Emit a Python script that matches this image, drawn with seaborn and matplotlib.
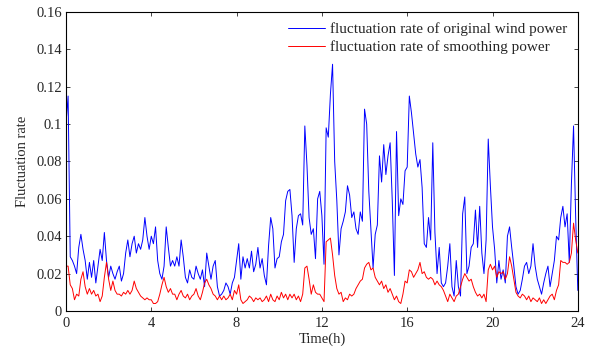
import numpy as np
import pandas as pd
import seaborn as sns
import matplotlib
matplotlib.use("Agg")
import matplotlib.pyplot as plt

# fluctuation rate of original wind power, one value every 0.1 h
original = [
    0.100, 0.115, 0.029, 0.027, 0.024, 0.020, 0.034, 0.041, 0.033, 0.027,
    0.017, 0.026, 0.018, 0.027, 0.015, 0.024, 0.033, 0.027, 0.042, 0.027,
    0.018, 0.024, 0.020, 0.017, 0.021, 0.024, 0.016, 0.020, 0.031, 0.038,
    0.029, 0.036, 0.040, 0.031, 0.036, 0.033, 0.038, 0.050, 0.040, 0.033,
    0.040, 0.036, 0.045, 0.027, 0.020, 0.017, 0.024, 0.045, 0.034, 0.024,
    0.027, 0.024, 0.029, 0.024, 0.038, 0.029, 0.018, 0.015, 0.022, 0.018,
    0.017, 0.024, 0.020, 0.017, 0.022, 0.013, 0.031, 0.024, 0.017, 0.024,
    0.027, 0.013, 0.008, 0.009, 0.011, 0.015, 0.013, 0.009, 0.015, 0.018,
    0.027, 0.036, 0.017, 0.029, 0.023, 0.028, 0.023, 0.032, 0.021, 0.025,
    0.034, 0.023, 0.028, 0.019, 0.014, 0.035, 0.050, 0.044, 0.023, 0.028,
    0.029, 0.037, 0.041, 0.059, 0.064, 0.065, 0.051, 0.026, 0.044, 0.051,
    0.052, 0.046, 0.099, 0.078, 0.050, 0.041, 0.044, 0.028, 0.060, 0.064,
    0.051, 0.025, 0.098, 0.093, 0.116, 0.132, 0.080, 0.059, 0.030, 0.044,
    0.048, 0.053, 0.067, 0.062, 0.050, 0.053, 0.044, 0.041, 0.053, 0.048,
    0.108, 0.100, 0.064, 0.044, 0.023, 0.041, 0.046, 0.083, 0.069, 0.089,
    0.073, 0.083, 0.090, 0.059, 0.019, 0.096, 0.051, 0.060, 0.057, 0.075,
    0.077, 0.115, 0.106, 0.095, 0.084, 0.077, 0.081, 0.066, 0.036, 0.034,
    0.050, 0.038, 0.090, 0.042, 0.020, 0.034, 0.015, 0.013, 0.015, 0.024,
    0.036, 0.013, 0.008, 0.027, 0.013, 0.008, 0.052, 0.061, 0.020, 0.024,
    0.034, 0.036, 0.054, 0.034, 0.056, 0.031, 0.020, 0.038, 0.092, 0.067,
    0.045, 0.033, 0.015, 0.027, 0.017, 0.022, 0.015, 0.040, 0.045, 0.034,
    0.024, 0.013, 0.009, 0.011, 0.017, 0.024, 0.026, 0.020, 0.024, 0.036,
    0.024, 0.017, 0.013, 0.009, 0.015, 0.020, 0.024, 0.013, 0.020, 0.027,
    0.040, 0.038, 0.050, 0.056, 0.045, 0.052, 0.026, 0.068, 0.099, 0.050,
    0.011,
]

# fluctuation rate of smoothing power, same time steps
smoothed = [
    0.024, 0.024, 0.014, 0.012, 0.006, 0.009, 0.008, 0.017, 0.021, 0.013,
    0.009, 0.012, 0.009, 0.011, 0.008, 0.009, 0.005, 0.008, 0.018, 0.026,
    0.017, 0.011, 0.016, 0.011, 0.009, 0.009, 0.008, 0.010, 0.009, 0.011,
    0.009, 0.011, 0.016, 0.012, 0.010, 0.008, 0.007, 0.006, 0.007, 0.006,
    0.006, 0.004, 0.004, 0.005, 0.009, 0.014, 0.018, 0.013, 0.010, 0.012,
    0.009, 0.009, 0.006, 0.009, 0.011, 0.008, 0.007, 0.009, 0.006, 0.008,
    0.009, 0.012, 0.008, 0.006, 0.010, 0.015, 0.017, 0.014, 0.012, 0.009,
    0.008, 0.006, 0.008, 0.006, 0.008, 0.006, 0.007, 0.009, 0.006, 0.011,
    0.009, 0.014, 0.006, 0.004, 0.005, 0.006, 0.008, 0.007, 0.005, 0.007,
    0.006, 0.007, 0.005, 0.006, 0.008, 0.005, 0.009, 0.006, 0.005, 0.008,
    0.006, 0.010, 0.007, 0.009, 0.006, 0.009, 0.007, 0.009, 0.006, 0.008,
    0.005, 0.009, 0.023, 0.024, 0.017, 0.009, 0.014, 0.010, 0.009, 0.009,
    0.007, 0.005, 0.037, 0.038, 0.039, 0.030, 0.019, 0.012, 0.009, 0.010,
    0.005, 0.007, 0.006, 0.009, 0.008, 0.009, 0.012, 0.014, 0.016, 0.017,
    0.023, 0.025, 0.026, 0.022, 0.023, 0.018, 0.016, 0.014, 0.016, 0.012,
    0.014, 0.010, 0.012, 0.009, 0.006, 0.008, 0.005, 0.004, 0.009, 0.016,
    0.015, 0.022, 0.021, 0.018, 0.020, 0.022, 0.026, 0.020, 0.021, 0.018,
    0.017, 0.018, 0.017, 0.014, 0.016, 0.014, 0.013, 0.011, 0.008, 0.005,
    0.009, 0.007, 0.005, 0.008, 0.009, 0.013, 0.017, 0.020, 0.018, 0.016,
    0.017, 0.013, 0.010, 0.008, 0.009, 0.007, 0.009, 0.005, 0.022, 0.025,
    0.022, 0.024, 0.018, 0.021, 0.020, 0.021, 0.017, 0.020, 0.029, 0.024,
    0.017, 0.010, 0.008, 0.007, 0.009, 0.008, 0.006, 0.008, 0.005, 0.007,
    0.006, 0.005, 0.007, 0.004, 0.006, 0.004, 0.006, 0.008, 0.009, 0.006,
    0.011, 0.014, 0.027, 0.026, 0.026, 0.025, 0.026, 0.031, 0.047, 0.038,
    0.031,
]

hours = np.linspace(0, 24, len(original))
x_ticks = [0, 4, 8, 12, 16, 20, 24]
y_ticks = [0, 0.02, 0.04, 0.06, 0.08, 0.1, 0.12, 0.14, 0.16]
y_labels = ["0", "0.02", "0.04", "0.06", "0.08", "0.1", "0.12", "0.14", "0.16"]

df = pd.DataFrame({"Time": hours, "orig": original, "smooth": smoothed})

sns.set_style("ticks")
plt.rcParams["font.family"] = ["Liberation Serif", "DejaVu Serif"]
plt.rcParams["xtick.direction"] = "in"
plt.rcParams["ytick.direction"] = "in"

fig = plt.figure(figsize=(5.89, 3.51), dpi=100)
ax = fig.add_axes([0.112, 0.114, 0.869, 0.852])

sns.lineplot(data=df, x="Time", y="orig", color="#0000ff", lw=0.7, ax=ax,
             label="fluctuation rate of original wind power")
sns.lineplot(data=df, x="Time", y="smooth", color="#ff0000", lw=0.7, ax=ax,
             label="fluctuation rate of smoothing power")

ax.set_xlim(0, 24)
ax.set_ylim(0, 0.16)
ax.set_xticks(x_ticks)
ax.set_yticks(y_ticks)
ax.set_yticklabels(y_labels)
ax.tick_params(labelsize=10.5, length=3, width=0.6, top=True, right=True, pad=3)
ax.tick_params(axis="x", pad=4)
for s in ax.spines.values():
    s.set_linewidth(0.8)
    s.set_color("black")

ax.set_xlabel("Time(h)", fontsize=10.5, labelpad=2)
ax.set_ylabel("Fluctuation rate", fontsize=10.5, labelpad=5)

ax.legend(loc="upper right", frameon=False, fontsize=11, handlelength=2.4,
          handletextpad=0.35, labelspacing=0.25, borderaxespad=0.3)

plt.savefig("out.png", dpi=100)
